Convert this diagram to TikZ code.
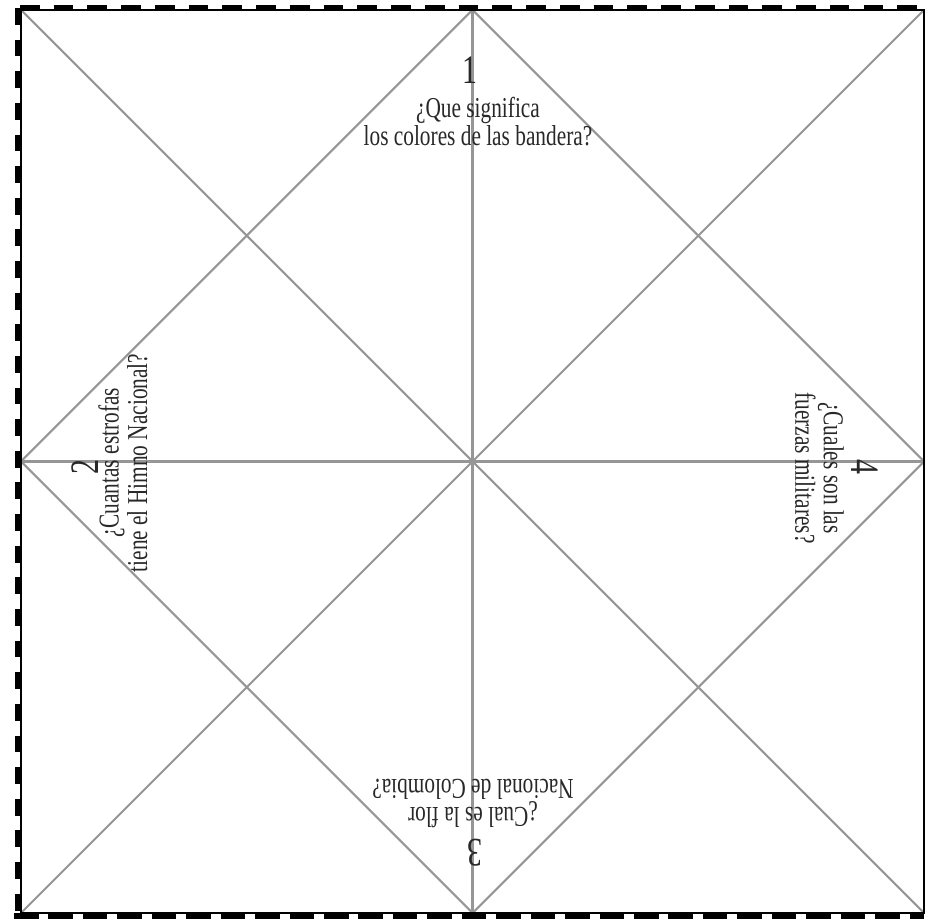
\documentclass[tikz,border=0pt]{standalone}
\usepackage{fontspec}
\setmainfont{Liberation Serif}
\newfontfamily\quizfont{Liberation Serif}[FakeStretch=0.74]
\usepackage{tikz}
\usetikzlibrary{positioning,calc}
\usepackage{xcolor}
\definecolor{foldgray}{RGB}{150,150,150}
\definecolor{inkgray}{RGB}{40,40,40}

\begin{document}
\begin{tikzpicture}[
    fold/.style={foldgray,line width=0.6pt},
    cutline/.style={black,line width=0.5pt},
    question/.style={inkgray,font=\quizfont\fontsize{8.2}{8.1}\selectfont,align=center,inner sep=0pt},
    number/.style={inkgray,font=\quizfont\fontsize{11.5}{12}\selectfont,inner sep=0pt}
  ]
    \useasboundingbox (0,0) rectangle (9.25,9.19);

    % Sheet corners and middles
    \coordinate (tl) at (0.21,9.09);
    \coordinate (tr) at (9.24,9.09);
    \coordinate (bl) at (0.21,0.06);
    \coordinate (br) at (9.24,0.06);
    \coordinate (tm) at ($(tl)!0.5!(tr)$);
    \coordinate (bm) at ($(bl)!0.5!(br)$);
    \coordinate (lm) at ($(tl)!0.5!(bl)$);
    \coordinate (rm) at ($(tr)!0.5!(br)$);

    % Folds
    \draw[fold] (tl) -- (br);
    \draw[fold] (tr) -- (bl);
    \draw[fold] (tm) -- (bm);
    \draw[fold] (lm) -- (rm);
    \draw[fold] (tm) -- (lm) -- (bm) -- (rm) -- cycle;

    % Cut border
    \draw[cutline] (tl) rectangle (br);
    \draw[black,line width=1.3pt,dash pattern=on 5.6pt off 4pt] (0.20,9.12) -- (9.24,9.12);
    \draw[black,line width=1.4pt,dash pattern=on 4.8pt off 4.2pt] (0.175,9.11) -- (0.175,0.0);
    \draw[black,line width=1.7pt,dash pattern=on 7pt off 2.8pt] (0.14,0.03) -- (9.24,0.03);

    % Questions
    \node[number] (n1) at (4.70,8.49) {1};
    \node[question] (q1) at (4.78,7.975) {¿Que significa\\los colores de las bandera?};

    \node[number,rotate=90] (n2) at (0.85,4.52) {2};
    \node[question,rotate=90] (q2) at (1.23,4.56) {¿Cuantas estrofas\\tiene el Himno Nacional?};

    \node[number,rotate=180] (n3) at (4.75,0.66) {3};
    \node[question,rotate=180] (q3) at (4.73,1.155) {¿Cual es la flor\\Nacional de Colombia?};

    \node[number,rotate=-90] (n4) at (8.65,4.52) {4};
    \node[question,rotate=-90] (q4) at (8.195,4.51) {¿Cuales son las\\fuerzas militares?};
\end{tikzpicture}
\end{document}
